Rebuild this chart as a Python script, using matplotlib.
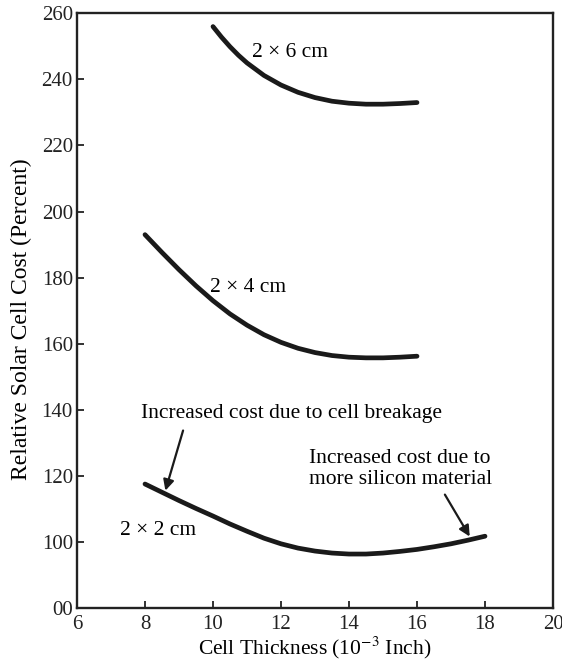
import matplotlib
matplotlib.use("Agg")
import matplotlib.pyplot as plt

plt.rcParams['font.family'] = ['Liberation Serif', 'DejaVu Serif']
plt.rcParams['mathtext.fontset'] = 'stix'

# 2 x 6 cm cell
x_2x6 = [10, 10.25, 10.5, 10.75, 11, 11.5, 12, 12.5, 13, 13.5, 14, 14.5, 15, 15.5, 16]
y_2x6 = [256, 252.8, 249.9, 247.3, 245, 241.2, 238.3, 236.1, 234.5, 233.4, 232.8,
         232.5, 232.5, 232.7, 233]

# 2 x 4 cm cell
x_2x4 = [8, 8.5, 9, 9.5, 10, 10.5, 11, 11.5, 12, 12.5, 13, 13.5, 14, 14.5, 15, 15.5, 16]
y_2x4 = [193, 187.6, 182.4, 177.5, 173, 169, 165.6, 162.7, 160.4, 158.6, 157.3,
         156.4, 155.9, 155.7, 155.7, 155.9, 156.2]

# 2 x 2 cm cell
x_2x2 = [8, 8.5, 9, 9.5, 10, 10.5, 11, 11.5, 12, 12.5, 13, 13.5, 14, 14.5, 15,
         15.5, 16, 16.5, 17, 17.5, 18]
y_2x2 = [117.5, 115, 112.5, 110.1, 107.8, 105.4, 103.2, 101.1, 99.4, 98.1, 97.2,
         96.6, 96.3, 96.3, 96.6, 97.1, 97.7, 98.5, 99.4, 100.5, 101.7]

xticks = [6, 8, 10, 12, 14, 16, 18, 20]
yticks = [80, 100, 120, 140, 160, 180, 200, 220, 240, 260]
ytick_labels = ['00', '100', '120', '140', '160', '180', '200', '220', '240', '260']

fs = 15.5
ink = '#1a1a1a'

fig = plt.figure(figsize=(5.62, 6.68), dpi=100)
ax = fig.add_axes([0.137, 0.09, 0.847, 0.89])

for xs, ys in [(x_2x6, y_2x6), (x_2x4, y_2x4), (x_2x2, y_2x2)]:
    ax.plot(xs, ys, color=ink, lw=3.4, solid_capstyle='round')

ax.set_xlim(6, 20)
ax.set_ylim(80, 260)
ax.set_xticks(xticks)
ax.set_yticks(yticks)
ax.set_yticklabels(ytick_labels)
ax.tick_params(direction='in', length=5, width=1.3, labelsize=15, colors='#222222')
ax.tick_params(axis='x', pad=5)
ax.tick_params(axis='y', pad=3)
for s in ax.spines.values():
    s.set_linewidth(1.7)
    s.set_color('#222222')

ax.set_xlabel('Cell Thickness (10$^{-3}$ Inch)', fontsize=fs, labelpad=1)
ax.set_ylabel('Relative Solar Cell Cost (Percent)', fontsize=17)
ax.yaxis.set_label_coords(-0.094, 0.485)

# curve labels
ax.text(11.15, 248, '2 × 6 cm', fontsize=fs, va='center')
ax.text(9.9, 177, '2 × 4 cm', fontsize=fs, va='center')
ax.text(7.26, 103.5, '2 × 2 cm', fontsize=fs, va='center')

# annotation texts
ax.text(12.32, 139, 'Increased cost due to cell breakage', fontsize=fs,
        ha='center', va='center')
ax.text(12.82, 122, 'Increased cost due to\nmore silicon material', fontsize=fs,
        ha='left', va='center', linespacing=1.1)

# arrows
arrow = dict(arrowstyle='-|>', color=ink, lw=1.6, mutation_scale=16,
             shrinkA=0, shrinkB=0)
ax.annotate('', xy=(8.6, 115.5), xytext=(9.12, 133.7), arrowprops=arrow)
ax.annotate('', xy=(17.55, 101.6), xytext=(16.82, 114.3), arrowprops=arrow)

fig.savefig('out.png', dpi=100)
